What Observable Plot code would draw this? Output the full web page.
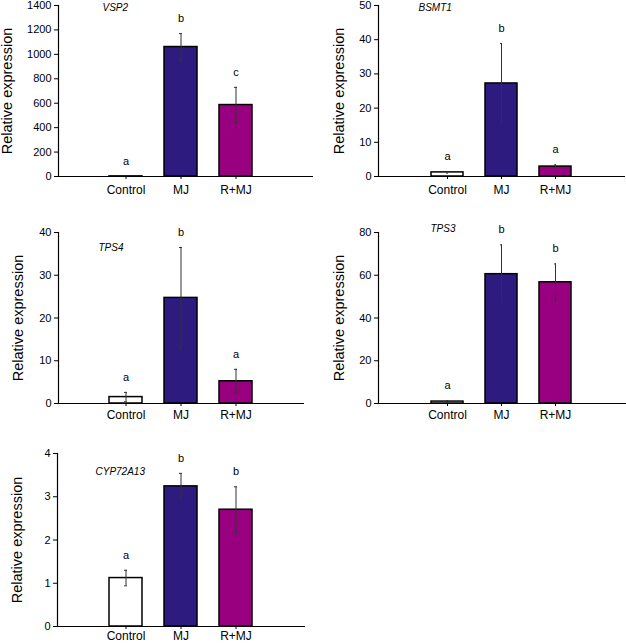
<!DOCTYPE html>
<html>
<head>
<meta charset="utf-8">
<script src="https://cdn.jsdelivr.net/npm/d3@7"></script>
<script src="https://cdn.jsdelivr.net/npm/@observablehq/plot@0.6"></script>
<style>
  html, body { margin: 0; padding: 0; background: #fff; }
  #chart { position: relative; width: 626px; height: 643px; overflow: hidden; font-family: "Liberation Sans", Arial, sans-serif; }
  #chart svg { position: absolute; background: transparent !important; overflow: visible; }
</style>
</head>
<body>
<div id="chart"></div>
<script>
// ---- Data ----
const categories = ["Control", "MJ", "R+MJ"];
const genes = ["VSP2", "BSMT1", "TPS4", "TPS3", "CYP72A13"];

const vsp2Mean = [1, 1060, 585];
const vsp2Err = [0.5, 110, 145];
const vsp2Letters = ["a", "b", "c"];

const bsmt1Mean = [1.2, 27.2, 2.9];
const bsmt1Err = [0.2, 11.7, 0.5];
const bsmt1Letters = ["a", "b", "a"];

const tps4Mean = [1.5, 24.7, 5.2];
const tps4Err = [1.1, 11.8, 2.8];
const tps4Letters = ["a", "b", "a"];

const tps3Mean = [0.9, 60.5, 56.7];
const tps3Err = [0.4, 13.7, 8.6];
const tps3Letters = ["a", "b", "b"];

const cypMean = [1.12, 3.24, 2.70];
const cypErr = [0.18, 0.30, 0.53];
const cypLetters = ["a", "b", "b"];

const yMax = [1400, 50, 40, 80, 4];
const yTickStep = [200, 10, 10, 20, 1];
const yLabel = "Relative expression";

const barColors = ["#ffffff", "#2d1b80", "#990080"];

// ---- Layout (pixels) ----
const layout = [
  {left: 0,   top: 0,   width: 320, height: 205, mL: 58, mR: 7,  mT: 5,  mB: 29, xr: [86, 274],     lab: 57, tdx: 44, tdy: 2,  tp: 6},
  {left: 310, top: 0,   width: 316, height: 205, mL: 68, mR: 1,  mT: 5,  mB: 29, xr: [99, 284],     lab: 45, tdx: 40, tdy: 2,  tp: 6},
  {left: 0,   top: 205, width: 320, height: 215, mL: 58, mR: 16, mT: 27, mB: 17, xr: [86, 274],     lab: 46, tdx: 40, tdy: 15, tp: 4},
  {left: 310, top: 205, width: 316, height: 215, mL: 68, mR: 0,  mT: 27, mB: 17, xr: [98.5, 284.5], lab: 45, tdx: 52, tdy: -4, tp: 4},
  {left: 0,   top: 420, width: 320, height: 223, mL: 57, mR: 15, mT: 33, mB: 17, xr: [86, 274],     lab: 46, tdx: 38, tdy: 18, tp: 2}
];

const series = [
  [vsp2Mean, vsp2Err, vsp2Letters],
  [bsmt1Mean, bsmt1Err, bsmt1Letters],
  [tps4Mean, tps4Err, tps4Letters],
  [tps3Mean, tps3Err, tps3Letters],
  [cypMean, cypErr, cypLetters]
];

const font = "Liberation Sans, Arial, sans-serif";
const container = document.getElementById("chart");

genes.forEach((gene, gi) => {
  const L = layout[gi];
  const [means, errs, letters] = series[gi];
  const rows = categories.map((c, i) => ({cat: c, mean: means[i], err: errs[i], letter: letters[i]}));
  const ticks = d3.range(0, yMax[gi] + yTickStep[gi] / 2, yTickStep[gi]);

  const chart = Plot.plot({
    width: L.width,
    height: L.height,
    marginLeft: L.mL,
    marginRight: L.mR,
    marginTop: L.mT,
    marginBottom: L.mB,
    style: {fontFamily: font, background: "transparent", overflow: "visible", color: "#000"},
    x: {type: "band", domain: categories, range: L.xr, padding: 0.4, label: null},
    y: {domain: [0, yMax[gi]], label: null},
    color: {domain: categories, range: barColors},
    marks: [
      Plot.barY(rows, {x: "cat", y: "mean", fill: "cat", stroke: "#000", strokeWidth: 1.5}),
      Plot.ruleX(rows, {x: "cat", y1: d => Math.max(0, d.mean - d.err), y2: d => d.mean + d.err, stroke: "#333", strokeWidth: 1}),
      Plot.tickY(rows, {x: "cat", y: d => d.mean + d.err, stroke: "#333", strokeWidth: 1, insetLeft: 15, insetRight: 15}),
      Plot.tickY(rows, {x: "cat", y: d => Math.max(0, d.mean - d.err), stroke: "#333", strokeWidth: 1, insetLeft: 15, insetRight: 15}),
      Plot.text(rows, {x: "cat", y: d => d.mean + d.err, text: "letter", dy: -15, lineAnchor: "middle", fontSize: 11, fill: "#000"}),
      Plot.ruleY([0], {stroke: "#000", strokeWidth: 1.2}),
      Plot.frame({anchor: "left", stroke: "#000", strokeWidth: 1.2}),
      Plot.axisY({ticks, tickSize: 4, tickPadding: 3, fontSize: 11, label: null, tickFormat: d3.format("d")}),
      Plot.axisX({tickSize: 3, tickPadding: L.tp, fontSize: 12, label: null}),
      Plot.text([yLabel], {frameAnchor: "left", rotate: -90, dx: -L.lab, lineAnchor: "top", textAnchor: "middle", fontSize: 14.5, fill: "#000"}),
      Plot.text([gene], {frameAnchor: "top-left", dx: L.tdx, dy: L.tdy, lineAnchor: "middle", textAnchor: "start", fontSize: 10, fontStyle: "italic", fill: "#000"})
    ]
  });
  chart.style.left = L.left + "px";
  chart.style.top = L.top + "px";
  container.appendChild(chart);
});
</script>
</body>
</html>
